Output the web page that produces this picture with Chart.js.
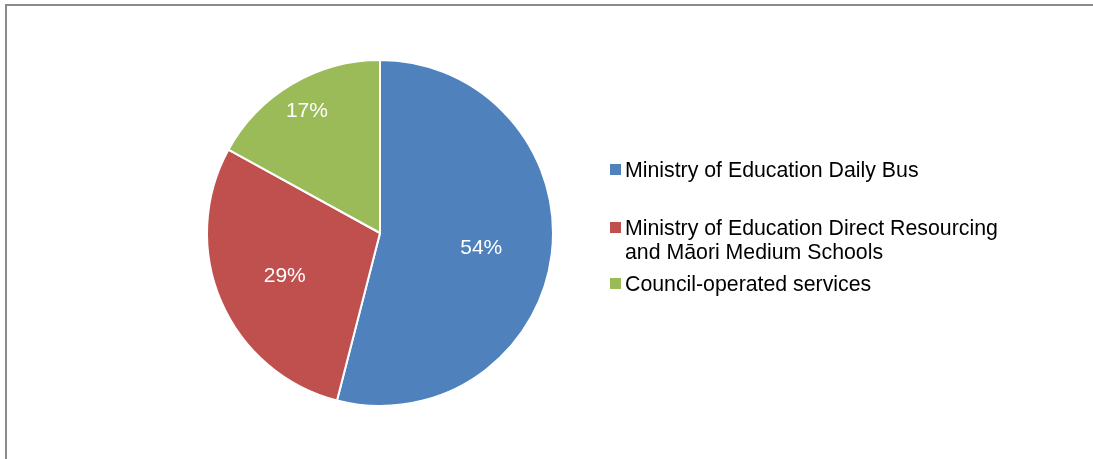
<!DOCTYPE html>
<html>
<head>
<meta charset="utf-8">
<script src="https://cdn.jsdelivr.net/npm/chart.js@4"></script>
<style>
  html, body { margin: 0; padding: 0; background: #fff; }
  body { width: 1093px; height: 459px; overflow: hidden; position: relative; font-family: "Liberation Sans", Arial, sans-serif; }
  #frame { position: absolute; left: 5px; top: 4px; width: 1200px; height: 600px; border-left: 2px solid #8a8a8a; border-top: 2px solid #8a8a8a; }
  #wrap { position: absolute; left: 0; top: 0; width: 1093px; height: 459px; }
  #legend { position: absolute; left: 0; top: 0; }
  .item { position: absolute; left: 610px; width: 440px; font-size: 21.3px; line-height: 24px; color: #000; }
  .item .sw { position: absolute; left: 0; top: 6px; width: 11px; height: 11px; }
  .item .tx { position: absolute; left: 15px; width: 400px; }
</style>
</head>
<body>
<div id="frame"></div>
<div id="wrap"><canvas id="c" width="1093" height="459"></canvas></div>
<div id="legend"></div>
<script>
// Shares of school transport provision
const categories = [
  "Ministry of Education Daily Bus",
  "Ministry of Education Direct Resourcing and Māori Medium Schools",
  "Council-operated services"
];
const shares = [54, 29, 17];
const colors = ["#4F81BD", "#C0504D", "#9BBB59"];

// Radial position of each slice label, as a fraction of the radius
const labelRadius = [0.59, 0.60, 0.83];
// Legend item tops
const legendTops = [158, 216, 272];

const sliceLabels = {
  id: "sliceLabels",
  afterDatasetsDraw(chart) {
    const ctx = chart.ctx;
    const meta = chart.getDatasetMeta(0);
    ctx.save();
    ctx.font = '21px "Liberation Sans", Arial, sans-serif';
    ctx.fillStyle = "#ffffff";
    ctx.textAlign = "center";
    ctx.textBaseline = "middle";
    meta.data.forEach((arc, i) => {
      const p = arc.getProps(["x", "y", "startAngle", "endAngle", "outerRadius"], true);
      const mid = (p.startAngle + p.endAngle) / 2;
      const r = p.outerRadius * labelRadius[i];
      const v = chart.data.datasets[0].data[i];
      ctx.fillText(v + "%", p.x + Math.cos(mid) * r, p.y + Math.sin(mid) * r + 2);
    });
    ctx.restore();
  }
};

const chart = new Chart(document.getElementById("c"), {
  type: "pie",
  data: {
    labels: categories,
    datasets: [{
      data: shares,
      backgroundColor: colors,
      borderColor: "#ffffff",
      borderWidth: 2,
      hoverOffset: 0
    }]
  },
  options: {
    responsive: false,
    animation: false,
    events: [],
    layout: { padding: { left: 206, right: 539, top: 59, bottom: 52 } },
    plugins: {
      legend: { display: false },
      tooltip: { enabled: false }
    }
  },
  plugins: [sliceLabels]
});

// Legend built from the chart's own labels and colours
const legend = document.getElementById("legend");
categories.forEach((name, i) => {
  const item = document.createElement("div");
  item.className = "item";
  item.style.top = legendTops[i] + "px";
  const sw = document.createElement("span");
  sw.className = "sw";
  sw.style.background = colors[i];
  const tx = document.createElement("span");
  tx.className = "tx";
  tx.textContent = name;
  item.appendChild(sw);
  item.appendChild(tx);
  legend.appendChild(item);
});
</script>
</body>
</html>
